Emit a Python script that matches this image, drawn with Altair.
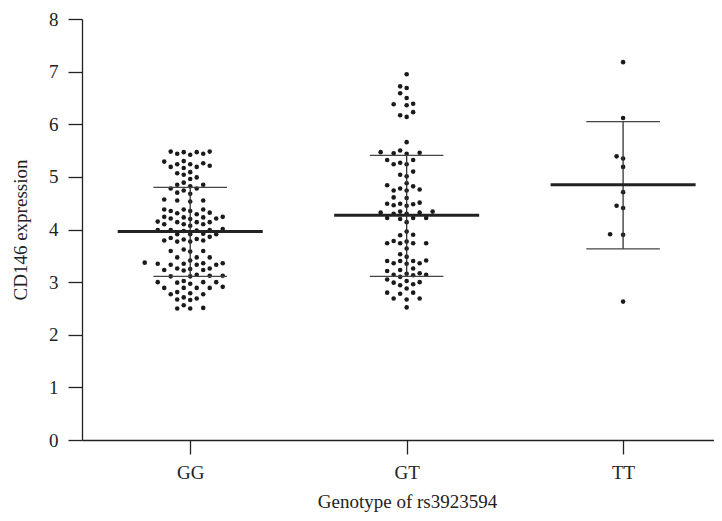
import altair as alt
import pandas as pd

groups = ["GG", "GT", "TT"]

gg_values = [
    5.48, 5.47, 5.44, 5.44, 5.48, 5.42, 5.47,
    5.29, 5.24, 5.21, 5.17, 5.19, 5.19, 5.24, 5.26, 5.30,
    5.09, 5.04, 5.07, 4.99, 4.96,
    4.89, 4.85, 4.82, 4.85, 4.74, 4.70, 4.78, 4.78, 4.68,
    4.55, 4.53, 4.55, 4.57,
    4.38, 4.35, 4.32, 4.31, 4.35, 4.38, 4.38, 4.29, 4.24, 4.23, 4.21, 4.20, 4.21, 4.23, 4.24,
    4.14, 4.14, 4.10, 4.10, 4.07, 4.10, 4.14, 4.15, 4.01, 3.99, 3.97, 3.98, 3.99, 3.99,
    3.86, 3.82, 3.79, 3.77, 3.77, 3.79, 3.81, 3.84, 3.91, 3.91, 3.91, 3.92,
    3.58, 3.62, 3.59, 3.59, 3.47, 3.47, 3.47,
    3.41, 3.36, 3.35, 3.33, 3.33, 3.33, 3.35, 3.36, 3.37, 3.26, 3.22, 3.23, 3.23, 3.25, 3.26,
    3.12, 3.11, 3.11, 3.12, 3.14, 3.02, 2.99, 2.97, 3.00, 3.00, 3.00, 2.89, 2.89, 2.89, 2.91, 2.89,
    2.77, 2.77, 2.79, 2.81, 2.67, 2.66, 2.69, 2.71,
    2.50, 2.50, 2.51, 2.56,
]

gt_values = [
    6.95, 6.69, 6.72, 6.59, 6.50, 6.39, 6.36, 6.38, 6.17, 6.14, 6.23,
    5.66, 5.47, 5.44, 5.45, 5.46, 5.50,
    5.32, 5.27, 5.24, 5.24, 5.32, 5.10, 5.04, 5.01,
    4.88, 4.84, 4.78, 4.74, 4.74, 4.76, 4.82, 4.60, 4.61,
    4.51, 4.49, 4.46, 4.45, 4.48, 4.49,
    4.34, 4.30, 4.32, 4.30, 4.32, 4.34,
    4.22, 4.20, 4.22, 4.22, 4.14,
    3.96, 3.89, 3.90, 3.74, 3.74, 3.78, 3.74, 3.74, 3.77,
    3.64, 3.53, 3.48, 3.40, 3.40, 3.40, 3.41, 3.36, 3.36, 3.35,
    3.26, 3.23, 3.21, 3.16, 3.14, 3.13, 3.14, 3.17, 3.10,
    3.05, 3.00, 2.96, 2.94, 2.99, 3.02,
    2.88, 2.80, 2.78, 2.80, 2.69, 2.69, 2.67, 2.52,
]

tt_values = [7.18, 6.12, 5.39, 5.35, 5.19, 4.71, 4.45, 4.41, 3.91, 3.90, 2.63]

means = [3.96, 4.27, 4.85]
sd_upper = [4.80, 5.41, 6.05]
sd_lower = [3.11, 3.11, 3.63]

PLOT_W, PLOT_H = 632, 421
X_DOMAIN = [-0.5, 2.42]
Y_DOMAIN = [0, 8]
px_per_x = PLOT_W / (X_DOMAIN[1] - X_DOMAIN[0])
px_per_y = PLOT_H / (Y_DOMAIN[1] - Y_DOMAIN[0])


def swarm(vals, slot_px=6.5, d=6.6):
    order = sorted(range(len(vals)), key=lambda i: vals[i])
    placed = []
    offs = [0.0] * len(vals)
    cand = [0]
    for k in range(1, 15):
        cand += [-k, k]
    for i in order:
        y = vals[i] * px_per_y
        for s in cand:
            x = s * slot_px
            if all((x - px) ** 2 + (y - py) ** 2 >= d * d for px, py in placed):
                placed.append((x, y))
                offs[i] = x / px_per_x
                break
    return offs


rows = []
for gi, vals in enumerate([gg_values, gt_values, tt_values]):
    offs = swarm(vals)
    for v, o in zip(vals, offs):
        rows.append({"group": groups[gi], "x": gi + o, "value": v})
pts = pd.DataFrame(rows)

summ = pd.DataFrame({
    "group": groups,
    "center": [0, 1, 2],
    "mean": means,
    "hi": sd_upper,
    "lo": sd_lower,
})
summ["m_l"] = summ["center"] - 0.335
summ["m_r"] = summ["center"] + 0.335
summ["s_l"] = summ["center"] - 0.17
summ["s_r"] = summ["center"] + 0.17

FONT = "Liberation Serif"

xs = alt.Scale(domain=X_DOMAIN, nice=False, zero=False)
ys = alt.Scale(domain=Y_DOMAIN, nice=False)

x_axis = alt.Axis(
    title="Genotype of rs3923594",
    values=[0, 1, 2],
    labelExpr="datum.value == 0 ? 'GG' : datum.value == 1 ? 'GT' : 'TT'",
    grid=False,
    titleX=325,
    titleAlign="center",
    titlePadding=10,
)
y_axis = alt.Axis(
    title="CD146 expression",
    values=[0, 1, 2, 3, 4, 5, 6, 7, 8],
    grid=False,
    titlePadding=18,
)

points = alt.Chart(pts).mark_circle(size=21, color="#1a1a1a", opacity=1).encode(
    x=alt.X("x:Q", scale=xs, axis=x_axis),
    y=alt.Y("value:Q", scale=ys, axis=y_axis),
)

vert = alt.Chart(summ).mark_rule(color="#333333", strokeWidth=1.3).encode(
    x=alt.X("center:Q", scale=xs),
    y=alt.Y("lo:Q", scale=ys),
    y2="hi:Q",
)
sd_hi = alt.Chart(summ).mark_rule(color="#444444", strokeWidth=1.3).encode(
    x=alt.X("s_l:Q", scale=xs), x2="s_r:Q", y=alt.Y("hi:Q", scale=ys)
)
sd_lo = alt.Chart(summ).mark_rule(color="#444444", strokeWidth=1.3).encode(
    x=alt.X("s_l:Q", scale=xs), x2="s_r:Q", y=alt.Y("lo:Q", scale=ys)
)
mean_r = alt.Chart(summ).mark_rule(color="#222222", strokeWidth=3).encode(
    x=alt.X("m_l:Q", scale=xs), x2="m_r:Q", y=alt.Y("mean:Q", scale=ys)
)

chart = alt.layer(points, vert, sd_hi, sd_lo, mean_r).properties(
    width=PLOT_W,
    height=PLOT_H,
    autosize=alt.AutoSizeParams(type="none"),
    padding={"left": 74, "top": 11, "right": 0, "bottom": 73},
).configure_view(stroke=None).configure_axis(
    domainColor="#222222",
    domainWidth=1.3,
    tickColor="#222222",
    tickWidth=1.3,
    tickSize=14,
    labelFont=FONT,
    labelFontSize=19,
    labelColor="#222222",
    labelPadding=9,
    titleFont=FONT,
    titleFontSize=19,
    titleFontWeight="normal",
    titleColor="#222222",
).configure_axisY(labelPadding=10)

chart.save("out.html", embed_options={"renderer": "svg", "actions": False})
